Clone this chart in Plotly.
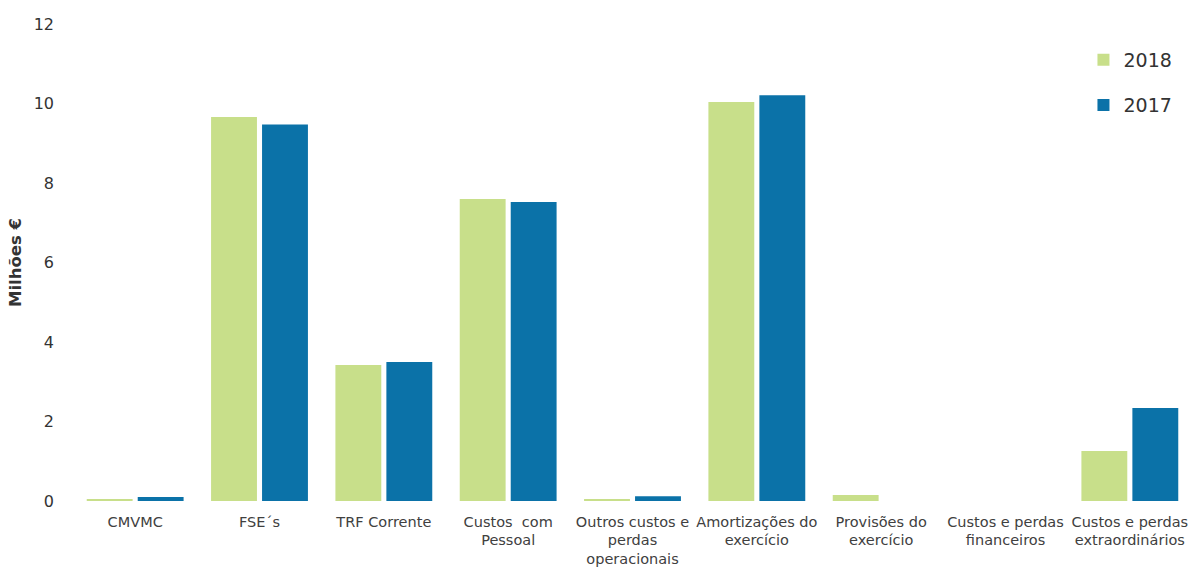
import plotly.graph_objects as go

categories = [
    "CMVMC",
    "FSE´s",
    "TRF Corrente",
    "Custos  com<br>Pessoal",
    "Outros custos e<br>perdas<br>operacionais",
    "Amortizações do<br>exercício",
    "Provisões do<br>exercício",
    "Custos e perdas<br>financeiros",
    "Custos e perdas<br>extraordinários",
]
values_2018 = [0.05, 9.66, 3.42, 7.60, 0.03, 10.04, 0.15, 0.0, 1.26]
values_2017 = [0.10, 9.47, 3.50, 7.52, 0.12, 10.21, 0.0, 0.0, 2.34]
y_ticks = [0, 2, 4, 6, 8, 10, 12]

GREEN = "#c8df8a"
BLUE = "#0b72a8"
FONT = "DejaVu Sans"

fig = go.Figure()
fig.add_trace(go.Bar(name="2018", x=categories, y=values_2018,
                     marker=dict(color=GREEN, line_width=0), legend="legend"))
fig.add_trace(go.Bar(name="2017", x=categories, y=values_2017,
                     marker=dict(color=BLUE, line_width=0), legend="legend2"))

legend_style = dict(font=dict(family=FONT, size=19, color="#333333"),
                    bgcolor="rgba(0,0,0,0)", xanchor="left", yanchor="middle",
                    itemwidth=30)

fig.update_layout(
    width=1192, height=570,
    margin=dict(l=73, r=0, t=24, b=69),
    paper_bgcolor="white", plot_bgcolor="white",
    barmode="group", bargap=0.18, bargroupgap=0.1,
    font=dict(family=FONT, color="#404040"),
    showlegend=True,
    legend=dict(x=0.903, y=0.925, **legend_style),
    legend2=dict(x=0.903, y=0.83, **legend_style),
    xaxis=dict(showgrid=False, showline=False, zeroline=False, ticks="",
               ticklabelstandoff=10,
               tickfont=dict(family=FONT, size=14.5, color="#404040")),
    yaxis=dict(range=[0, 12], tickvals=y_ticks, showgrid=False,
               showline=False, zeroline=False, ticks="",
               ticklabelstandoff=18,
               tickfont=dict(family=FONT, size=16, color="#333333"),
               title=dict(text="<b>Milhões €</b>", standoff=7,
                          font=dict(family=FONT, size=16.5, color="#333333"))),
)

fig.write_html("out.html")
